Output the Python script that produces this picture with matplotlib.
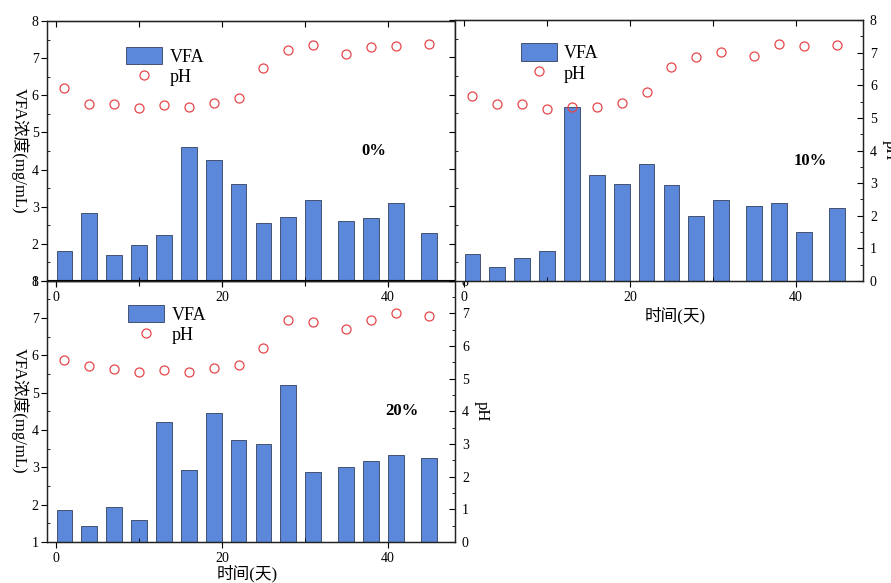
import numpy as np
import matplotlib
matplotlib.use("Agg")
import matplotlib.pyplot as plt
from matplotlib.ticker import MultipleLocator

plt.rcParams['font.family'] = ['Liberation Serif', 'Noto Sans CJK SC']
plt.rcParams['axes.unicode_minus'] = False

days = [1, 4, 7, 10, 13, 16, 19, 22, 25, 28, 31, 35, 38, 41, 45]

vfa_0 = [1.82, 2.84, 1.71, 1.98, 2.23, 4.61, 4.25, 3.60, 2.57, 2.72, 3.17, 2.62, 2.70, 3.11, 2.30]
ph_0 = [5.95, 5.45, 5.45, 5.33, 5.43, 5.35, 5.48, 5.64, 6.55, 7.12, 7.26, 6.98, 7.21, 7.24, 7.30]

vfa_10 = [1.72, 1.38, 1.63, 1.80, 5.67, 3.84, 3.61, 4.15, 3.57, 2.75, 3.16, 3.02, 3.08, 2.31, 2.97]
ph_10 = [5.67, 5.41, 5.43, 5.27, 5.33, 5.32, 5.45, 5.80, 6.57, 6.87, 7.01, 6.91, 7.26, 7.20, 7.22]

vfa_20 = [1.85, 1.42, 1.95, 1.58, 4.20, 2.93, 4.44, 3.74, 3.61, 5.21, 2.88, 3.00, 3.18, 3.32, 3.24]
ph_20 = [5.57, 5.39, 5.30, 5.19, 5.26, 5.19, 5.31, 5.41, 5.93, 6.79, 6.72, 6.53, 6.79, 7.00, 6.92]

labels = ['0%', '10%', '20%']

BAR = '#5b88da'
EDGE = '#34405e'
RED = '#e8474a'

W, H = 891, 583
fig = plt.figure(figsize=(W / 100, H / 100), dpi=100)


def px_rect(l, t, r, b):
    return [l / W, 1 - b / H, (r - l) / W, (b - t) / H]


def panel(rect, vfa, ph, label, lab_xy, leg_xy, show_left=True, show_right=True,
          xlabel_pos=None, zorder=0):
    ax = fig.add_axes(rect, zorder=zorder)
    ax.set_facecolor('white')
    bars = ax.bar(days, vfa, width=1.9, color=BAR, edgecolor=EDGE, linewidth=0.6)
    ax.set_xlim(-1.1, 48.1)
    ax.set_ylim(1, 8)
    ax.xaxis.set_major_locator(MultipleLocator(20))
    ax.xaxis.set_minor_locator(MultipleLocator(10))
    ax.yaxis.set_major_locator(MultipleLocator(1))
    ax.yaxis.set_minor_locator(MultipleLocator(0.5))
    ax.tick_params(axis='x', which='major', direction='out', length=4, labelsize=10, pad=3)
    ax.tick_params(axis='x', which='minor', direction='in', length=3)
    ax.tick_params(axis='y', which='major', direction='out', length=4, labelsize=10,
                   pad=2, labelleft=show_left, left=show_left)
    ax.tick_params(axis='y', which='minor', direction='in', length=2.5, left=show_left)
    top = ax.secondary_xaxis('top')
    top.set_xticks([0, 10, 20, 30, 40])
    top.tick_params(direction='in', length=4, labeltop=False)
    for s in ax.spines.values():
        s.set_linewidth(0.9)
        s.set_color('#222222')

    ax2 = ax.twinx()
    ax2.set_zorder(zorder)
    pts, = ax2.plot(days, ph, 'o', ms=6.5, mfc='none', mec=RED, mew=0.9)
    ax2.set_ylim(0, 8)
    ax2.yaxis.set_major_locator(MultipleLocator(1))
    ax2.yaxis.set_minor_locator(MultipleLocator(0.5))
    ax2.tick_params(axis='y', which='major', direction='in', length=4, labelsize=10,
                    pad=5, labelright=show_right, right=show_right)
    ax2.tick_params(axis='y', which='minor', direction='in', length=2.5, right=show_right)
    for s in ax2.spines.values():
        s.set_linewidth(0.9)
        s.set_color('#222222')

    ax2.text(lab_xy[0], lab_xy[1], label, transform=ax.transAxes, fontsize=12,
             fontweight='bold', ha='center', va='center')
    ax2.legend([bars, pts], ['VFA', 'pH'], loc='upper left', bbox_to_anchor=leg_xy,
               frameon=False, fontsize=13, handlelength=2.0, handleheight=1.1,
               labelspacing=0.1, handletextpad=0.4, borderpad=0.2, borderaxespad=0)
    if xlabel_pos is not None:
        ax.set_xlabel('时间(天)', fontsize=12)
        ax.xaxis.set_label_coords(*xlabel_pos)
    return ax, ax2


# top-left 0%
a1, b1 = panel(px_rect(47, 21, 455, 281), vfa_0, ph_0, labels[0], (0.80, 0.50),
               (0.185, 0.915), show_right=False, zorder=0)
a1.set_ylabel('VFA浓度(mg/mL)', fontsize=12, rotation=-90, va='center')
a1.yaxis.set_label_coords(-0.067, 0.50)

# bottom-left 20%
a3, b3 = panel(px_rect(47, 280.5, 455, 542), vfa_20, ph_20, labels[2], (0.87, 0.50),
               (0.19, 0.92), xlabel_pos=(0.49, -0.088), zorder=0)
a3.set_facecolor('none')
a3.set_ylabel('VFA浓度(mg/mL)', fontsize=12, rotation=-90, va='center')
a3.yaxis.set_label_coords(-0.067, 0.50)
b3.set_ylabel('pH', fontsize=12, rotation=-90, va='center')
b3.yaxis.set_label_coords(1.065, 0.50)

# top-right 10%
a2, b2 = panel(px_rect(455, 20, 863, 281), vfa_10, ph_10, labels[1], (0.87, 0.46),
               (0.152, 0.925), show_left=False, xlabel_pos=(0.54, -0.10), zorder=2)
b2.set_ylabel('pH', fontsize=12, rotation=-90, va='center')
b2.yaxis.set_label_coords(1.065, 0.50)

fig.savefig('out.png', dpi=100)
